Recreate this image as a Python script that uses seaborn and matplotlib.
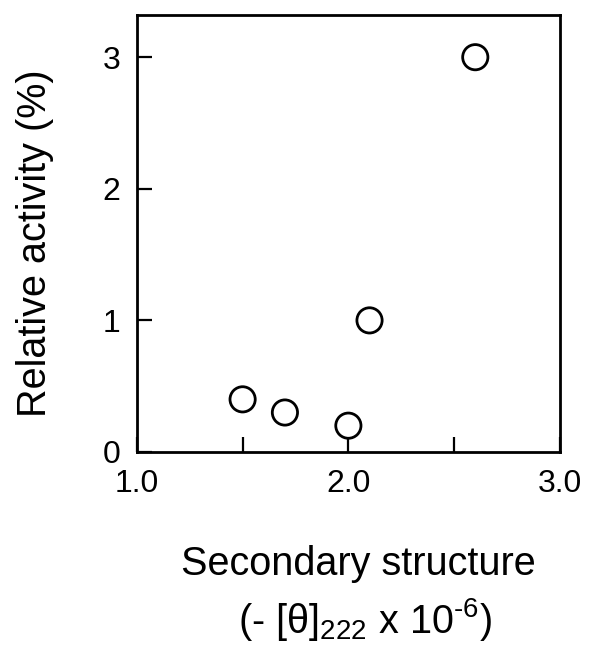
import pandas as pd
import seaborn as sns
import matplotlib.pyplot as plt

# data
structure = [1.5, 1.7, 2.0, 2.1, 2.6]
activity = [0.4, 0.3, 0.2, 1.0, 3.0]
x_ticks = [1.0, 1.5, 2.0, 2.5, 3.0]
x_tick_labels = ['1.0', '', '2.0', '', '3.0']
y_ticks = [0, 1, 2, 3]
y_tick_labels = ['0', '1', '2', '3']

data = pd.DataFrame({'structure': structure, 'activity': activity})

sns.set_style('ticks')
plt.rcParams['font.family'] = ['Liberation Sans', 'DejaVu Sans']
plt.rcParams['mathtext.fontset'] = 'custom'
plt.rcParams['mathtext.rm'] = 'Liberation Sans'
plt.rcParams['mathtext.it'] = 'Liberation Sans:italic'
plt.rcParams['text.color'] = 'black'
plt.rcParams['axes.labelcolor'] = 'black'

fig = plt.figure(figsize=(5.95, 6.56), dpi=100)
ax = fig.add_axes([0.230, 0.311, 0.711, 0.666])

sns.scatterplot(data=data, x='structure', y='activity', ax=ax,
                marker='o', s=330, facecolor='none', edgecolor='black',
                linewidth=2.0, zorder=3)

ax.set_xlim(1.0, 3.0)
ax.set_ylim(0, 3.32)
ax.set_xticks(x_ticks)
ax.set_xticklabels(x_tick_labels)
ax.set_yticks(y_ticks)
ax.set_yticklabels(y_tick_labels)
ax.tick_params(direction='in', length=11, width=1.6, labelsize=23,
               colors='black', pad=12)
for side in ['top', 'right', 'bottom', 'left']:
    ax.spines[side].set_visible(True)
    ax.spines[side].set_linewidth(2)
    ax.spines[side].set_color('black')

ax.set_xlabel('')
ax.set_ylabel('')

# axis titles
fig.text(0.058, 0.630, 'Relative activity (%)', fontsize=28.5,
         rotation=90, ha='center', va='center')
fig.text(0.602, 0.1235, 'Secondary structure', fontsize=28.5,
         ha='center', va='baseline')
fig.text(0.613, 0.035, r'(- [θ]$_{222}$ x 10$^{\text{-}6}$)', fontsize=28.5,
         ha='center', va='baseline')

plt.savefig('out.png', dpi=100)
